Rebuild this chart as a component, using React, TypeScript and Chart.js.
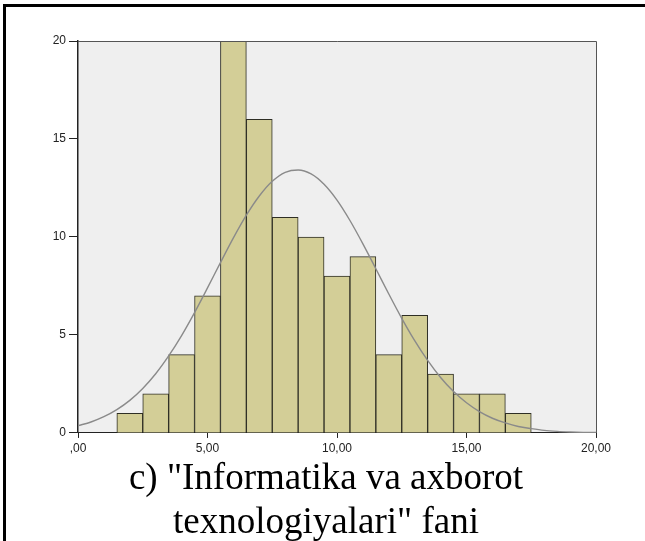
import React, { useEffect, useRef } from "react";
import { Chart, registerables } from "chart.js";

Chart.register(...registerables);

// Histogram bins (centers, width 1) and frequencies
const binCenters = [2, 3, 4, 5, 6, 7, 8, 9, 10, 11, 12, 13, 14, 15, 16, 17];
const binCounts = [1, 2, 4, 7, 20, 16, 11, 10, 8, 9, 4, 6, 3, 2, 2, 1];

// Fitted normal curve (x, frequency)
const curveX = [0, 0.5, 1, 1.5, 2, 2.5, 3, 3.5, 4, 4.5, 5, 5.5, 6, 6.5, 7, 7.5, 8, 8.5, 9, 9.5, 10, 10.5, 11, 11.5, 12, 12.5, 13, 13.5, 14, 14.5, 15, 15.5, 16, 16.5, 17, 17.5, 18, 18.5, 19, 19.5, 20];
const curveY = [0.37, 0.56, 0.83, 1.19, 1.66, 2.27, 3.02, 3.93, 4.97, 6.14, 7.4, 8.69, 9.95, 11.11, 12.09, 12.84, 13.3, 13.42, 13.22, 12.69, 11.88, 10.84, 9.65, 8.38, 7.09, 5.85, 4.71, 3.7, 2.83, 2.11, 1.54, 1.09, 0.75, 0.51, 0.33, 0.22, 0.13, 0.08, 0.05, 0.03, 0.02];

const xTickValues = [0, 5, 10, 15, 20];
const xTickLabels = [",00", "5,00", "10,00", "15,00", "20,00"];
const yTickValues = [0, 5, 10, 15, 20];
const yTickLabels = ["0", "5", "10", "15", "20"];

const titleLines = ['c) "Informatika va axborot', 'texnologiyalari" fani'];

const plotFrame = {
  id: "plotFrame",
  beforeDraw(chart: any) {
    const { ctx, chartArea: a } = chart;
    ctx.save();
    ctx.fillStyle = "#efefef";
    ctx.fillRect(a.left, a.top, a.right - a.left, a.bottom - a.top);
    ctx.restore();
  },
  afterDatasetsDraw(chart: any) {
    const { ctx, chartArea: a } = chart;
    ctx.save();
    ctx.strokeStyle = "#555555";
    ctx.lineWidth = 1;
    ctx.beginPath();
    ctx.moveTo(Math.round(a.left), Math.round(a.top) + 0.5);
    ctx.lineTo(Math.round(a.right) + 0.5, Math.round(a.top) + 0.5);
    ctx.lineTo(Math.round(a.right) + 0.5, Math.round(a.bottom));
    ctx.stroke();
    ctx.restore();
  },
};

export default function App() {
  const canvasRef = useRef<HTMLCanvasElement | null>(null);

  useEffect(() => {
    if (!canvasRef.current) return;
    const tickFont = { family: "'Liberation Sans', Arial, sans-serif", size: 12 };
    const chart = new Chart(canvasRef.current, {
      type: "bar",
      data: {
        datasets: [
          {
            type: "line",
            data: curveX.map((x, i) => ({ x, y: curveY[i] })),
            borderColor: "#8a8a8a",
            borderWidth: 1.4,
            pointRadius: 0,
            fill: false,
            cubicInterpolationMode: "monotone",
            order: 0,
          } as any,
          {
            type: "bar",
            data: binCenters.map((x, i) => ({ x, y: binCounts[i] })),
            backgroundColor: "#d3ce97",
            borderColor: "#2e2e24",
            borderWidth: 1,
            barPercentage: 1,
            categoryPercentage: 1,
            order: 1,
          } as any,
        ],
      },
      options: {
        animation: false,
        responsive: false,
        devicePixelRatio: 1,
        layout: { padding: { top: 41, right: 0, left: 7, bottom: 0 } },
        plugins: {
          legend: { display: false },
          tooltip: { enabled: false },
          title: {
            display: true,
            position: "bottom",
            text: titleLines,
            color: "#000",
            font: { family: "'Liberation Serif', 'Times New Roman', serif", size: 37, weight: "normal", lineHeight: 1.19 },
            padding: { top: 0, bottom: 0 },
          },
        },
        scales: {
          x: {
            type: "linear",
            min: 0,
            max: 20,
            offset: false,
            afterBuildTicks: (s: any) => {
              s.ticks = xTickValues.map((v) => ({ value: v }));
            },
            afterFit: (s: any) => {
              s.height = 24;
            },
            ticks: {
              callback: (v: any) => xTickLabels[xTickValues.indexOf(Number(v))],
              color: "#222",
              font: tickFont,
              padding: 4,
              maxRotation: 0,
            },
            grid: { drawOnChartArea: false, tickLength: 5, color: "#222", offset: false },
            border: { color: "#222", width: 1 },
          },
          y: {
            type: "linear",
            min: 0,
            max: 20,
            afterBuildTicks: (s: any) => {
              s.ticks = yTickValues.map((v) => ({ value: v }));
            },
            afterFit: (s: any) => {
              s.width = 71;
            },
            ticks: {
              callback: (v: any) => yTickLabels[yTickValues.indexOf(Number(v))],
              color: "#222",
              font: tickFont,
              padding: 3,
            },
            grid: { drawOnChartArea: false, tickLength: 9, color: "#222" },
            border: { color: "#222", width: 1.5 },
          },
          yRightSpace: {
            type: "linear",
            position: "right",
            min: 0,
            max: 20,
            display: true,
            afterFit: (s: any) => {
              s.width = 49;
            },
            ticks: { display: false },
            grid: { display: false, drawTicks: false },
            border: { display: false },
          },
        },
      },
      plugins: [plotFrame],
    });
    return () => chart.destroy();
  }, []);

  return (
    <div
      style={{
        position: "absolute",
        left: 0,
        top: 0,
        width: 645,
        height: 541,
        overflow: "hidden",
        background: "#fff",
      }}
    >
      <canvas ref={canvasRef} width={645} height={545} style={{ display: "block", width: 645, height: 545 }} />
      <div
        style={{
          position: "absolute",
          left: 3,
          top: 4,
          width: 700,
          height: 600,
          borderTop: "3px solid #000",
          borderLeft: "3px solid #000",
          pointerEvents: "none",
        }}
      />
    </div>
  );
}
